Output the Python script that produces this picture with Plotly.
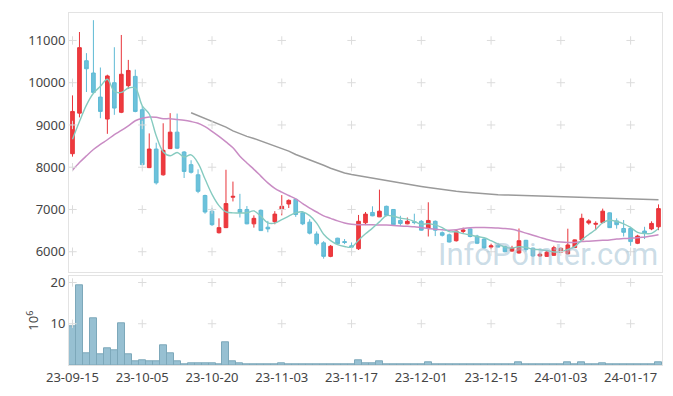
import pandas as pd
import plotly.graph_objects as go
from plotly.subplots import make_subplots

# ---- categories (Korean trading days) ----
holidays = ['2023-09-28', '2023-09-29', '2023-10-02', '2023-10-03', '2023-10-09',
            '2023-12-25', '2023-12-29', '2024-01-01']
days = pd.bdate_range('2023-09-15', '2024-01-23')
days = days[~days.isin(pd.to_datetime(holidays))]
dates = [d.strftime('%y-%m-%d') for d in days]

# ---- OHLC ----
open_ = [8320, 9280, 10520, 10230, 9660, 9140, 10000, 9300, 9930, 10150,
         9360, 7990, 8430, 7820, 8440, 8830, 8360, 8060, 7820, 7330,
         6960, 6450, 6570, 7290, 7000, 7000, 6660, 6980, 6580, 6710,
         7010, 7130, 7240, 6920, 6700, 6420, 6210, 5890, 6320, 6240,
         6140, 6070, 6685, 6930, 6825, 7075, 7000, 6740, 6660, 6710,
         6720, 6550, 6720, 6450, 6400, 6260, 6480, 6540, 6370, 6300,
         6110, 6150, 6120, 6015, 5970, 6270, 6085, 5900, 5890, 5915,
         5990, 5950, 6100, 6280, 6680, 6650, 6690, 6920, 6730, 6550,
         6550, 6200, 6490, 6540, 6590]
high_ = [9700, 11200, 10700, 11480, 10360, 10190, 10840, 11130, 10540, 10310,
         9450, 8800, 8580, 9040, 9280, 9270, 8380, 8165, 7950, 7350,
         7040, 6790, 7940, 7660, 7370, 7080, 6860, 7000, 6730, 6960,
         7340, 7240, 7260, 6960, 6770, 6480, 6250, 6160, 6330, 6300,
         6220, 6870, 6940, 7075, 7470, 7090, 7010, 6850, 6810, 6900,
         6750, 7170, 6740, 6480, 6430, 6510, 6570, 6550, 6400, 6320,
         6190, 6210, 6140, 6140, 6550, 6280, 6100, 5980, 6040, 6140,
         6100, 6545, 6290, 6900, 6770, 6720, 7020, 6930, 6790, 6750,
         6590, 6400, 6590, 6720, 7120]
low_ = [8250, 9180, 9780, 9740, 9160, 8790, 9240, 9280, 9850, 9300,
        8050, 7980, 7590, 7800, 8430, 8430, 7745, 7850, 7385, 6900,
        6610, 6430, 6560, 7190, 6810, 6650, 6570, 6490, 6460, 6650,
        6860, 7035, 6825, 6630, 6410, 6150, 5836, 5870, 6180, 6180,
        5950, 6040, 6630, 6840, 6820, 6840, 6620, 6610, 6650, 6650,
        6500, 6360, 6370, 6360, 6220, 6240, 6420, 6340, 6180, 6070,
        6060, 6100, 5985, 6000, 5955, 6000, 5875, 5875, 5875, 5900,
        5970, 5940, 6090, 6270, 6640, 6510, 6670, 6560, 6545, 6360,
        6140, 6180, 6300, 6510, 6510]
close_ = [9320, 10830, 10330, 9770, 9320, 10160, 9400, 10200, 10290, 9320,
          8060, 8430, 7630, 8400, 8830, 8450, 7900, 7880, 7430, 6940,
          6640, 6570, 7140, 7310, 6930, 6660, 6790, 6500, 6540, 6890,
          7075, 7215, 6880, 6660, 6440, 6190, 5890, 6130, 6190, 6220,
          6110, 6720, 6890, 6850, 6960, 6860, 6640, 6670, 6720, 6690,
          6510, 6740, 6510, 6390, 6230, 6490, 6515, 6360, 6200, 6090,
          6140, 6110, 6000, 6085, 6260, 6050, 5900, 5940, 5990, 6095,
          6080, 6160, 6280, 6790, 6730, 6670, 6960, 6570, 6640, 6460,
          6240, 6370, 6440, 6670, 7020]

# ---- volume (millions of shares) ----
volume = [9.3, 19.4, 2.9, 11.4, 2.6, 4.0, 3.6, 10.2, 2.6, 0.95,
          1.2, 0.95, 0.95, 4.8, 2.9, 0.95, 0.25, 0.45, 0.45, 0.3,
          0.3, 0.1, 5.5, 0.95, 0.5, 0.25, 0.08, 0.2, 0.08, 0.2,
          0.45, 0.2, 0.2, 0.08, 0.2, 0.08, 0.2, 0.08, 0.08, 0.08,
          0.08, 1.2, 0.5, 0.5, 0.95, 0.25, 0.08, 0.25, 0.08, 0.08,
          0.08, 0.7, 0.25, 0.08, 0.08, 0.08, 0.08, 0.08, 0.08, 0.08,
          0.08, 0.08, 0.08, 0.08, 0.7, 0.08, 0.08, 0.08, 0.08, 0.08,
          0.08, 0.7, 0.25, 0.7, 0.25, 0.08, 0.5, 0.25, 0.25, 0.25,
          0.08, 0.08, 0.08, 0.25, 0.7]

# ---- moving averages ----
ma5_head = [8660, 9080, 9470, 9750]          # uses closes before the window
ma5 = ma5_head + list(pd.Series(close_).rolling(5).mean().iloc[4:])
ma20 = [7930, 8110, 8270, 8420, 8540, 8650, 8770, 8870, 8980, 9100,
        9160, 9190, 9180, 9150, 9150, 9130, 9110, 9080, 9040, 8960,
        8850, 8730, 8600, 8460, 8260, 8100, 7950, 7790, 7630, 7500,
        7410, 7330, 7250, 7140, 7030, 6940, 6850, 6790, 6730, 6680,
        6650, 6640, 6640, 6640, 6630, 6630, 6620, 6610, 6600, 6590,
        6570, 6550, 6530, 6520, 6510, 6520, 6550, 6570, 6575, 6575,
        6570, 6560, 6550, 6530, 6490, 6440, 6390, 6340, 6290, 6250,
        6230, 6220, 6220, 6240, 6250, 6260, 6270, 6280, 6300, 6310,
        6320, 6330, 6350, 6370, 6400]
ma_long = [None] * 17 + [
    9290, 9220, 9150, 9080, 9010, 8950, 8860, 8790, 8730, 8680,
    8620, 8545, 8490, 8430, 8380, 8300, 8240, 8175, 8110, 8045,
    7975, 7920, 7865, 7830, 7800, 7770, 7740, 7710, 7685, 7655,
    7625, 7600, 7570, 7545, 7520, 7495, 7470, 7450, 7430, 7415,
    7400, 7385, 7370, 7360, 7350, 7345, 7340, 7332, 7325, 7318,
    7310, 7302, 7295, 7290, 7285, 7280, 7276, 7272, 7270, 7265,
    7260, 7255, 7250, 7245, 7240, 7237, 7234, 7231]

# ---- ticks ----
x_tick_idx = list(range(0, 85, 10))
x_ticks = [dates[i] for i in x_tick_idx]
price_ticks = [6000, 7000, 8000, 9000, 10000, 11000]
vol_ticks = [10, 20]

FONT = "Noto Sans"
fig = make_subplots(rows=2, cols=1, shared_xaxes=True)

fig.add_trace(go.Candlestick(
    x=dates, open=open_, high=high_, low=low_, close=close_,
    increasing=dict(line=dict(color='#E8343A', width=1), fillcolor='#EE3A3E'),
    decreasing=dict(line=dict(color='#5FBAD5', width=1), fillcolor='#6CC2DB'),
    whiskerwidth=0, showlegend=False, hoverinfo='skip'), row=1, col=1)

fig.add_trace(go.Scatter(x=dates, y=ma_long, mode='lines',
                         line=dict(color='#9a9a9a', width=1.5),
                         showlegend=False, hoverinfo='skip'), row=1, col=1)
fig.add_trace(go.Scatter(x=dates, y=ma20, mode='lines',
                         line=dict(color='#C98CC4', width=1.5, shape='spline'),
                         showlegend=False, hoverinfo='skip'), row=1, col=1)
fig.add_trace(go.Scatter(x=dates, y=ma5, mode='lines',
                         line=dict(color='#86CBC0', width=1.4, shape='spline'),
                         showlegend=False, hoverinfo='skip'), row=1, col=1)

fig.add_trace(go.Bar(x=dates, y=volume,
                     marker=dict(color='rgba(140,185,205,0.9)',
                                 line=dict(color='#7DA8BA', width=1)),
                     width=1.0, showlegend=False, hoverinfo='skip'), row=2, col=1)

# grid crosses
fig.add_trace(go.Scatter(
    x=[t for t in x_ticks for _ in price_ticks], y=price_ticks * len(x_ticks),
    mode='markers', marker=dict(symbol='cross-thin', size=6,
                                line=dict(width=1, color='#dcdcdc')),
    hoverinfo='skip', showlegend=False), row=1, col=1)
fig.add_trace(go.Scatter(
    x=[t for t in x_ticks for _ in vol_ticks], y=vol_ticks * len(x_ticks),
    mode='markers', marker=dict(symbol='cross-thin', size=6,
                                line=dict(width=1, color='#dcdcdc')),
    hoverinfo='skip', showlegend=False), row=2, col=1)

axis_common = dict(showline=True, linecolor='#e3e3e3', mirror=True,
                   showgrid=False, zeroline=False,
                   tickfont=dict(family=FONT, size=13, color='#444'))

# the page body adds an 8px margin, so the figure is sized to fit inside the window
fig.update_layout(
    width=657, height=380,
    margin=dict(l=61, r=3, t=2, b=21),
    paper_bgcolor='white', plot_bgcolor='white',
    bargap=0, boxgap=0.25,
    font=dict(family=FONT, color='#444'),
    xaxis=dict(**axis_common, type='category', range=[-0.5, 84.5],
               categoryorder='array', categoryarray=dates,
               rangeslider=dict(visible=False), showticklabels=False,
               ticks=''),
    xaxis2=dict(**axis_common, type='category', range=[-0.5, 84.5],
                categoryorder='array', categoryarray=dates,
                tickmode='array', tickvals=x_ticks, ticktext=x_ticks,
                tickangle=0, ticks=''),
    yaxis=dict(**axis_common, domain=[0.263, 1], range=[5510, 11650],
               tickmode='array', tickvals=price_ticks, tickformat='d', ticks=''),
    yaxis2=dict(**axis_common, domain=[0, 0.252], range=[0, 21.5],
                tickmode='array', tickvals=vol_ticks, ticks='',
                title=dict(text='10<sup>6</sup>', standoff=8,
                           font=dict(family=FONT, size=13, color='#444'))),
    annotations=[dict(text='InfoPointer.com', xref='paper', yref='paper',
                      x=0.808, y=0.314, xanchor='center', yanchor='middle',
                      showarrow=False,
                      font=dict(family='Roboto', size=31,
                                color='rgba(160,192,210,0.55)'))],
)

fig.write_html("out.html")
